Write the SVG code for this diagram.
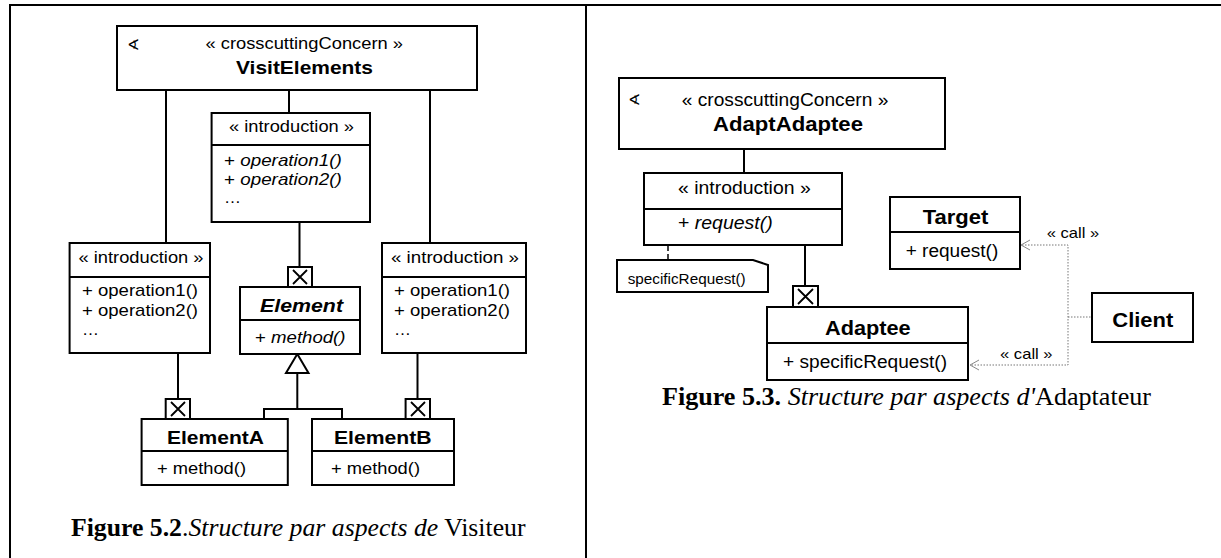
<svg xmlns="http://www.w3.org/2000/svg" width="1221" height="558" viewBox="0 0 1221 558">
<style>
.box{fill:#fff;stroke:#000;stroke-width:2}
.ln{stroke:#000;stroke-width:2;fill:none}
.xm{stroke:#000;stroke-width:1.8;fill:none}
.dot{stroke:#777;stroke-width:1;stroke-dasharray:1.5 1.5;fill:none}
.arr{stroke:#888;stroke-width:1;fill:none}
.t{font-family:"Liberation Sans",Arial,sans-serif;fill:#000}
.l{font-size:17px}
.lb{font-size:19px;font-weight:bold}
.r{font-size:18px}
.rb{font-size:20.5px;font-weight:bold}
.ic{font-family:"DejaVu Sans",sans-serif;font-size:15px}
.cap{font-family:"Liberation Serif","Times New Roman",serif;font-size:26px;fill:#000}
.i{font-style:italic}
.b{font-weight:bold}
</style>
<rect width="1221" height="558" fill="#fff"/>
<g id="frame">
<line class="ln" x1="9" y1="5" x2="1221" y2="5"/>
<line class="ln" x1="10" y1="4" x2="10" y2="558"/>
<line class="ln" x1="586" y1="4" x2="586" y2="558"/>
</g>
<g id="connectors">
<line class="ln" x1="166" y1="90" x2="166" y2="243"/>
<line class="ln" x1="289" y1="90" x2="289" y2="113"/>
<line class="ln" x1="430" y1="90" x2="430" y2="243"/>
<line class="ln" x1="299.5" y1="222" x2="299.5" y2="267"/>
<line class="ln" x1="178" y1="353" x2="178" y2="399"/>
<line class="ln" x1="417.5" y1="353" x2="417.5" y2="399"/>
<polyline class="ln" points="264,419 264,409 342,409 342,419"/>
<line class="ln" x1="297.3" y1="409" x2="297.3" y2="373"/>
<polygon class="box" points="297.3,354 286,373 308.5,373"/>
<line class="ln" x1="744" y1="149" x2="744" y2="173"/>
<line class="ln" x1="805" y1="245" x2="805" y2="286"/>
<line stroke="#000" stroke-width="1.5" stroke-dasharray="5 3" x1="668" y1="222" x2="668" y2="260"/>
<polyline class="dot" points="1022,245 1068,245 1068,365 970,365"/>
<line class="dot" x1="1068" y1="317" x2="1092" y2="317"/>
<polyline class="arr" points="1030,240 1021,245 1030,250"/>
<polyline class="arr" points="979,360 970,365 979,370"/>
<text class="t" font-size="15" x="1046.7" y="238" textLength="52.6" lengthAdjust="spacingAndGlyphs">« call »</text>
<text class="t" font-size="15" x="1000" y="359" textLength="52.6" lengthAdjust="spacingAndGlyphs">« call »</text>
</g>
<g id="VisitElements">
<rect class="box" x="117" y="26" width="360" height="64"/>
<text class="ic" x="127" y="50">∢</text>
<text class="t l" x="205.5" y="49" textLength="197.5" lengthAdjust="spacingAndGlyphs">« crosscuttingConcern »</text>
<text class="t lb" x="236" y="74" textLength="137" lengthAdjust="spacingAndGlyphs">VisitElements</text>
</g>
<g id="introCenter">
<rect class="box" x="211.6" y="113" width="158.4" height="109"/>
<line class="ln" x1="211.6" y1="145" x2="370" y2="145"/>
<text class="t l" x="229" y="131.5" textLength="125" lengthAdjust="spacingAndGlyphs">« introduction »</text>
<text class="t l" x="224" y="165.5" textLength="117.7" lengthAdjust="spacingAndGlyphs">+ <tspan class="i">operation1()</tspan></text>
<text class="t l" x="224" y="185" textLength="117.7" lengthAdjust="spacingAndGlyphs">+ <tspan class="i">operation2()</tspan></text>
<text class="t l" x="224" y="203">…</text>
</g>
<g id="introLeft">
<rect class="box" x="69.6" y="243" width="140.4" height="110"/>
<line class="ln" x1="69.6" y1="277" x2="210" y2="277"/>
<text class="t l" x="78.5" y="263" textLength="125" lengthAdjust="spacingAndGlyphs">« introduction »</text>
<text class="t l" x="82" y="296" textLength="116" lengthAdjust="spacingAndGlyphs">+ operation1()</text>
<text class="t l" x="82" y="316" textLength="116" lengthAdjust="spacingAndGlyphs">+ operation2()</text>
<text class="t l" x="82" y="335">…</text>
</g>
<g id="introRight">
<rect class="box" x="382" y="243" width="144" height="110"/>
<line class="ln" x1="382" y1="277" x2="526" y2="277"/>
<text class="t l" x="391" y="263" textLength="128" lengthAdjust="spacingAndGlyphs">« introduction »</text>
<text class="t l" x="394" y="296" textLength="116" lengthAdjust="spacingAndGlyphs">+ operation1()</text>
<text class="t l" x="394" y="316" textLength="116" lengthAdjust="spacingAndGlyphs">+ operation2()</text>
<text class="t l" x="394" y="335">…</text>
</g>
<g id="Element">
<rect class="box" x="288" y="267" width="24" height="20"/>
<path class="xm" d="M293,270 L307,284 M307,270 L293,284"/>
<rect class="box" x="240" y="287" width="120" height="67"/>
<line class="ln" x1="240" y1="320" x2="360" y2="320"/>
<text class="t lb i" x="260" y="311.5" textLength="83" lengthAdjust="spacingAndGlyphs">Element</text>
<text class="t l" x="255" y="343" textLength="90.5" lengthAdjust="spacingAndGlyphs">+ <tspan class="i">method()</tspan></text>
</g>
<g id="ElementA">
<rect class="box" x="165.7" y="399" width="24.3" height="20"/>
<path class="xm" d="M171,402 L185,416 M185,402 L171,416"/>
<rect class="box" x="141.6" y="419" width="146.2" height="66"/>
<line class="ln" x1="141.6" y1="451" x2="287.8" y2="451"/>
<text class="t lb" x="167" y="444" textLength="97" lengthAdjust="spacingAndGlyphs">ElementA</text>
<text class="t l" x="157" y="474" textLength="89" lengthAdjust="spacingAndGlyphs">+ method()</text>
</g>
<g id="ElementB">
<rect class="box" x="405.6" y="399" width="24.4" height="20"/>
<path class="xm" d="M411,402 L425,416 M425,402 L411,416"/>
<rect class="box" x="312" y="419" width="142" height="66"/>
<line class="ln" x1="312" y1="451" x2="454" y2="451"/>
<text class="t lb" x="334" y="444" textLength="97.6" lengthAdjust="spacingAndGlyphs">ElementB</text>
<text class="t l" x="331" y="474" textLength="89" lengthAdjust="spacingAndGlyphs">+ method()</text>
</g>
<g id="caption52">
<text class="cap" x="71" y="536" textLength="454.5" lengthAdjust="spacingAndGlyphs"><tspan class="b">Figure 5.2</tspan>.<tspan class="i">Structure par aspects de</tspan> Visiteur</text>
</g>
<g id="AdaptAdaptee">
<rect class="box" x="619" y="78" width="326" height="71"/>
<text class="ic" x="628" y="105">∢</text>
<text class="t r" x="681.7" y="106" textLength="206.7" lengthAdjust="spacingAndGlyphs">« crosscuttingConcern »</text>
<text class="t rb" x="713" y="131" textLength="150" lengthAdjust="spacingAndGlyphs">AdaptAdaptee</text>
</g>
<g id="introAdapt">
<rect class="box" x="644" y="173" width="198" height="72"/>
<line class="ln" x1="644" y1="209" x2="842" y2="209"/>
<text class="t r" x="678" y="194" textLength="132.7" lengthAdjust="spacingAndGlyphs">« introduction »</text>
<text class="t r" x="678" y="229" textLength="94.7" lengthAdjust="spacingAndGlyphs">+ <tspan class="i">request()</tspan></text>
</g>
<g id="note">
<path class="box" d="M617,260 H753 L768,265 V292 H617 Z"/>
<text class="t" font-size="14" x="627.7" y="284" textLength="118" lengthAdjust="spacingAndGlyphs">specificRequest()</text>
</g>
<g id="Target">
<rect class="box" x="890" y="197" width="130" height="72"/>
<line class="ln" x1="890" y1="232" x2="1020" y2="232"/>
<text class="t rb" x="922.7" y="224" textLength="65.6" lengthAdjust="spacingAndGlyphs">Target</text>
<text class="t r" x="905.7" y="257" textLength="92.6" lengthAdjust="spacingAndGlyphs">+ request()</text>
</g>
<g id="Adaptee">
<rect class="box" x="793" y="286" width="25" height="21"/>
<path class="xm" d="M798,289 L813,304 M813,289 L798,304"/>
<rect class="box" x="767" y="307" width="201" height="73"/>
<line class="ln" x1="767" y1="343" x2="968" y2="343"/>
<text class="t rb" x="825" y="335" textLength="85.7" lengthAdjust="spacingAndGlyphs">Adaptee</text>
<text class="t r" x="783" y="368" textLength="164" lengthAdjust="spacingAndGlyphs">+ specificRequest()</text>
</g>
<g id="Client">
<rect class="box" x="1092" y="293" width="101" height="49"/>
<text class="t rb" x="1112.3" y="327" textLength="61" lengthAdjust="spacingAndGlyphs">Client</text>
</g>
<g id="caption53">
<text class="cap" x="662" y="405" textLength="489" lengthAdjust="spacingAndGlyphs"><tspan class="b">Figure 5.3.</tspan> <tspan class="i">Structure par aspects d'</tspan>Adaptateur</text>
</g>
</svg>
